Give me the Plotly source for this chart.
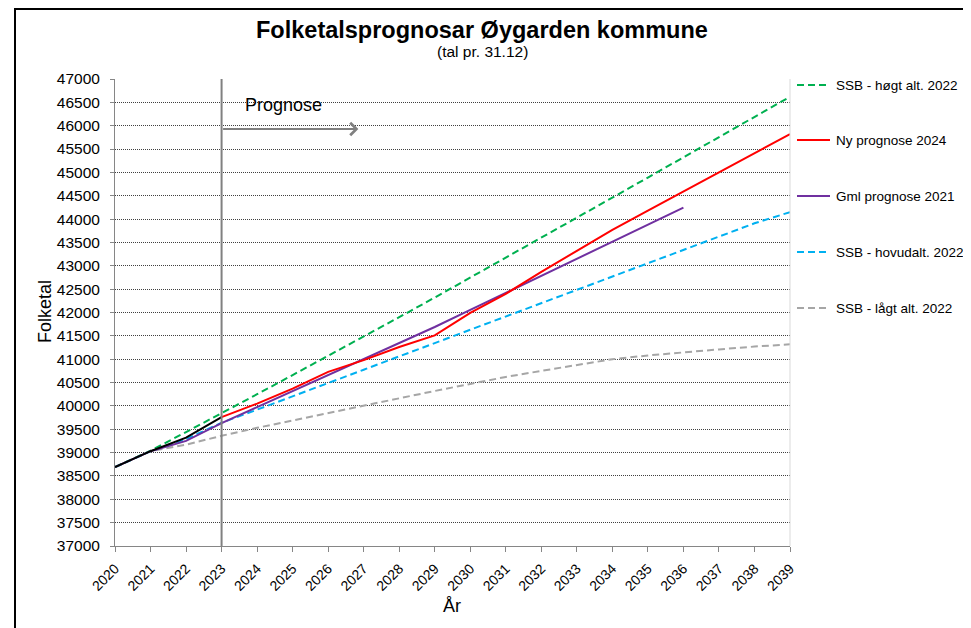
import plotly.graph_objects as go

# --- data ---
YEARS = list(range(2020, 2040))

HIST_YEARS = [2020, 2021, 2022, 2023]
HIST = [38690, 39030, 39320, 39760]

NY_YEARS = list(range(2023, 2040))
NY_2024 = [39760, 40050, 40370, 40730, 40980, 41260, 41510, 41990, 42400,
           42870, 43320, 43770, 44180, 44590, 45000, 45410, 45820]

GML_YEARS = list(range(2020, 2037))
GML_2021 = [38690, 39030, 39250, 39630, 39975, 40320, 40660, 41000, 41345,
            41690, 42055, 42420, 42785, 43150, 43515, 43880, 44245]

SSB_HIGH = [38690, 39040, 39440, 39840, 40250, 40660, 41070, 41480, 41900, 42320,
            42745, 43170, 43600, 44030, 44460, 44890, 45320, 45750, 46180, 46620]
SSB_MAIN = [38690, 39030, 39290, 39640, 39920, 40200, 40490, 40775, 41060, 41345,
            41630, 41915, 42200, 42485, 42770, 43055, 43340, 43625, 43910, 44150]
SSB_LOW = [38690, 39030, 39170, 39360, 39530, 39690, 39850, 40010, 40170, 40320,
           40470, 40620, 40750, 40880, 41000, 41080, 41150, 41210, 41270, 41320]

FONT = "Liberation Sans, Arial, sans-serif"
DASH = "7px,4px"

# plot area in page pixels; the page body adds an 8px offset
OFF = 8
L, R, T, B = 115, 790, 79, 546
W, H = 971 - OFF, 628 - OFF


def px_x(px):
    return (px - L) / (R - L)


def px_y(py):
    return (B - py) / (B - T)


fig = go.Figure()

series = [
    ("SSB - høgt alt. 2022", YEARS, SSB_HIGH, "#00B050", DASH),
    ("Ny prognose 2024", NY_YEARS, NY_2024, "#FF0000", "solid"),
    ("Gml prognose 2021", GML_YEARS, GML_2021, "#7030A0", "solid"),
    ("SSB - hovudalt. 2022", YEARS, SSB_MAIN, "#00B0F0", DASH),
    ("SSB - lågt alt. 2022", YEARS, SSB_LOW, "#A6A6A6", DASH),
]

# draw order: ssb lines under the prognoses
for name, xs, ys, color, dash in [series[4], series[3], series[0], series[2], series[1]]:
    fig.add_trace(go.Scatter(
        x=xs, y=ys, mode="lines", name=name,
        line=dict(color=color, width=2, dash=dash),
    ))

fig.add_trace(go.Scatter(
    x=HIST_YEARS, y=HIST, mode="lines", name="Historikk",
    line=dict(color="#000000", width=2),
))

# legend on the right, drawn by hand so it does not push the plot area
LEGEND_Y = [85, 140, 196, 252, 308]
for (name, _, _, color, dash), ly in zip(series, LEGEND_Y):
    fig.add_shape(type="line", xref="paper", yref="paper",
                  x0=px_x(797), x1=px_x(830), y0=px_y(ly), y1=px_y(ly),
                  line=dict(color=color, width=2, dash=dash))
    fig.add_annotation(x=px_x(834), y=px_y(ly), xref="paper", yref="paper",
                       xanchor="left", yanchor="middle", text=name, showarrow=False,
                       font=dict(family=FONT, size=13.5, color="#000000"))

# start of forecast
fig.add_shape(type="line", xref="x", yref="paper", x0=2023, x1=2023, y0=0, y1=1,
              line=dict(color="#808080", width=2))
fig.add_annotation(x=2026.85, y=45930, ax=2023, ay=45930, axref="x", ayref="y",
                   xref="x", yref="y", text="", showarrow=True,
                   arrowhead=4, arrowsize=1.2, arrowwidth=2, arrowcolor="#808080")
fig.add_annotation(x=2023.6, y=46440, xref="x", yref="y", text="Prognose",
                   showarrow=False, xanchor="left", yanchor="middle",
                   font=dict(family=FONT, size=18, color="#000000"))

# right border of plot area
fig.add_shape(type="line", xref="paper", yref="paper", x0=1, x1=1, y0=0, y1=1,
              line=dict(color="#D9D9D9", width=1))

# outer frame
fig.add_shape(type="rect", xref="paper", yref="paper",
              x0=px_x(15), x1=px_x(965), y0=px_y(660), y1=px_y(OFF + 1),
              line=dict(color="#000000", width=2), layer="below")

# axis titles
fig.add_annotation(x=px_x(45), y=px_y(312), xref="paper", yref="paper",
                   xanchor="center", yanchor="middle",
                   text="Folketal", textangle=-90, showarrow=False,
                   font=dict(family=FONT, size=18, color="#000000"))
fig.add_annotation(x=px_x(452), y=px_y(606), xref="paper", yref="paper",
                   xanchor="center", yanchor="middle",
                   text="År", showarrow=False,
                   font=dict(family=FONT, size=18, color="#000000"))

# title + subtitle
fig.add_annotation(x=px_x(482), y=px_y(30), xref="paper", yref="paper",
                   xanchor="center", yanchor="middle",
                   text="<b>Folketalsprognosar Øygarden kommune</b>", showarrow=False,
                   font=dict(family=FONT, size=23.5, color="#000000"))
fig.add_annotation(x=px_x(482), y=px_y(51), xref="paper", yref="paper",
                   xanchor="center", yanchor="middle",
                   text="(tal pr. 31.12)", showarrow=False,
                   font=dict(family=FONT, size=15.5, color="#000000"))

fig.update_layout(
    width=W, height=H,
    margin=dict(l=L - OFF, r=W - (R - OFF), t=T - OFF, b=H - (B - OFF), pad=0),
    plot_bgcolor="white", paper_bgcolor="white",
    font=dict(family=FONT, color="#000000"),
    showlegend=False,
    xaxis=dict(range=[2020, 2039], tickmode="linear", tick0=2020, dtick=1,
               tickangle=-45, ticks="outside", ticklen=5, tickcolor="#868686",
               showline=True, linecolor="#868686", linewidth=1,
               showgrid=False, zeroline=False, ticklabelstandoff=3,
               tickfont=dict(family=FONT, size=14, color="#000000")),
    yaxis=dict(range=[37000, 47000], tickmode="linear", tick0=37000, dtick=500,
               ticks="outside", ticklen=4, tickcolor="#868686",
               showline=True, linecolor="#868686", linewidth=1,
               showgrid=True, gridcolor="#404040", gridwidth=1, griddash="1px,1px",
               zeroline=False, tickformat="d", ticklabelstandoff=7,
               tickfont=dict(family=FONT, size=15.5, color="#000000")),
)

fig.write_html("out.html")
